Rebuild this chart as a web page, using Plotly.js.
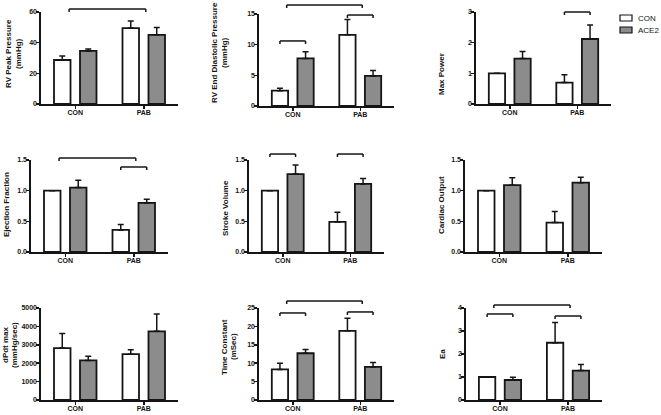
<!DOCTYPE html>
<html><head><meta charset="utf-8">
<script src="https://cdn.plot.ly/plotly-3.0.1.min.js"></script>
<style>html,body{margin:0;padding:0;background:#fff}#chart{width:661px;height:415px}</style>
</head><body><div id="chart"></div>
<script>
// ---- data ----
const groups = ['CON', 'PAB'];
const seriesNames = ['CON', 'ACE2'];
const panelTitles = [['RV Peak Pressure', '(mmHg)'], ['RV End Diastolic Pressure', '(mmHg)'], ['Max Power'],
  ['Ejection Fraction'], ['Stroke Volume'], ['Cardiac Output'],
  ['dPdt max', '(mmHg/sec)'], ['Time Constant', '(mSec)'], ['Ea']];
const yMax = [60, 15, 3, 1.5, 1.5, 1.5, 5000, 25, 4];
const yStep = [20, 5, 1, 0.5, 0.5, 0.5, 1000, 5, 1];
const yFormat = ['', '', '', '.1f', '.1f', '.1f', '', '', ''];
// mean values [CON group, PAB group]
const conMean = [[28.7, 49.5], [2.5, 11.6], [1.0, 0.70], [1.0, 0.36], [1.0, 0.49], [1.0, 0.48], [2820, 2490], [8.3, 18.8], [1.0, 2.49]];
const conUpper = [[31.3, 54.1], [2.9, 14.1], [1.0, 0.95], [1.0, 0.45], [1.0, 0.65], [1.0, 0.66], [3620, 2730], [10.0, 22.2], [1.0, 3.37]];
const aceMean = [[34.6, 45.1], [7.75, 4.9], [1.48, 2.12], [1.05, 0.80], [1.27, 1.11], [1.09, 1.13], [2150, 3730], [12.7, 9.0], [0.87, 1.28]];
const aceUpper = [[35.9, 49.9], [8.85, 5.8], [1.71, 2.58], [1.17, 0.86], [1.42, 1.20], [1.21, 1.22], [2380, 4670], [13.7, 10.2], [0.99, 1.54]];
// significance brackets: [kind, level as fraction of axis height]
const brackets = [
  [['across', 1.033]],
  [['across', 1.098], ['within0', 0.707], ['within1', 0.989]],
  [['within1', 1.0]],
  [['across', 1.022], ['within1', 0.924]],
  [['within0', 1.065], ['within1', 1.065]],
  [],
  [],
  [['across', 1.076], ['within0', 0.946], ['within1', 0.957]],
  [['across', 1.033], ['within0', 0.935], ['within1', 0.913]]
];

// ---- layout geometry (px) ----
const W = 661, H = 415;
const domX = [[41,178],[259,394],[476,611],[31,168],[249,384],[465,602],[41,178],[259,394],[466,602]];
const domY = [[12,104],[14,106],[12,104],[160,252],[160,252],[160,252],[308,400],[308,400],[308,400]];
// x of each title line centre, and vertical centre
const titleX = [[8,18],[215,225],[442],[7],[225],[442],[5,14],[224,233],[442]];
const titleY = [54, 53, 74, 205, 208, 205, 345, 347, 354];
const BARGAP = 0.241, BARGROUPGAP = 0.365;
const half = (1 - BARGAP) / 4; // offset of bar centre from group centre

const ink = '#151515';
const fills = ['#ffffff', '#8c8c8c'];
const fontFam = 'Liberation Sans, Arial, sans-serif';

const traces = [];
const layout = {
  width: W, height: H, margin: {l: 0, r: 0, t: 0, b: 0},
  paper_bgcolor: '#fff', plot_bgcolor: '#fff',
  barmode: 'group', bargap: BARGAP, bargroupgap: BARGROUPGAP,
  showlegend: false, shapes: [], annotations: []
};

for (let i = 0; i < 9; i++) {
  const sfx = i === 0 ? '' : String(i + 1);
  const means = [conMean[i], aceMean[i]];
  const uppers = [conUpper[i], aceUpper[i]];
  for (let s = 0; s < 2; s++) {
    traces.push({
      type: 'bar', x: [0, 1], y: means[s], name: seriesNames[s],
      xaxis: 'x' + sfx, yaxis: 'y' + sfx,
      marker: {color: fills[s], line: {color: ink, width: 1.8}},
      error_y: {type: 'data', symmetric: false,
        array: uppers[s].map((u, k) => Math.max(0, u - means[s][k])),
        arrayminus: [0, 0], color: ink, thickness: 1.5, width: 3},
      hoverinfo: 'skip'
    });
  }
  const d = domX[i], e = domY[i];
  const tf = {family: fontFam, size: 7, color: ink, weight: 'bold'};
  layout['xaxis' + sfx] = {
    domain: [d[0] / W, d[1] / W], anchor: 'y' + sfx, range: [-0.5, 1.5],
    tickvals: [0, 1], ticktext: groups, showline: true, linecolor: ink, linewidth: 1.6,
    ticks: 'outside', ticklen: 3, tickwidth: 1.5, tickcolor: ink, tickfont: tf,
    ticklabelstandoff: -2,
    showgrid: false, zeroline: false, fixedrange: true
  };
  layout['yaxis' + sfx] = {
    domain: [1 - e[1] / H, 1 - e[0] / H], anchor: 'x' + sfx, range: [0, yMax[i]],
    tick0: 0, dtick: yStep[i], tickformat: yFormat[i], showline: true, linecolor: ink, linewidth: 1.6,
    ticks: 'outside', ticklen: 3, tickwidth: 1.5, tickcolor: ink, tickfont: tf,
    ticklabelstandoff: -2,
    showgrid: false, zeroline: false, fixedrange: true
  };
  // axis title, one annotation per line
  panelTitles[i].forEach((line, k) => {
    layout.annotations.push({
      text: line, xref: 'paper', yref: 'paper',
      x: titleX[i][k] / W, y: 1 - titleY[i] / H, xanchor: 'center', yanchor: 'middle',
      textangle: -90, showarrow: false,
      font: {family: fontFam, size: 8, color: ink, weight: 'bold'}
    });
  });
  // brackets
  const tick = 3 / (e[1] - e[0]);
  brackets[i].forEach(([kind, lev]) => {
    let x0, x1;
    if (kind === 'across') { x0 = -0.09; x1 = 1.03; }
    else { const g = kind === 'within0' ? 0 : 1; x0 = g - half; x1 = g + half; }
    const base = {type: 'line', xref: 'x' + sfx, yref: 'y' + sfx + ' domain', line: {color: ink, width: 1.5}};
    layout.shapes.push(Object.assign({}, base, {x0: x0, x1: x1, y0: lev, y1: lev}));
    layout.shapes.push(Object.assign({}, base, {x0: x0, x1: x0, y0: lev, y1: lev - tick}));
    layout.shapes.push(Object.assign({}, base, {x0: x1, x1: x1, y0: lev, y1: lev - tick}));
  });
}

// legend (top right)
const legX = 620, legY = [18, 30];
for (let s = 0; s < 2; s++) {
  layout.shapes.push({type: 'rect', xref: 'paper', yref: 'paper',
    x0: legX / W, x1: (legX + 12) / W, y0: 1 - (legY[s] + 3) / H, y1: 1 - (legY[s] - 3) / H,
    fillcolor: fills[s], line: {color: ink, width: 1.2}});
  layout.annotations.push({text: seriesNames[s], xref: 'paper', yref: 'paper',
    x: (legX + 16) / W, y: 1 - legY[s] / H, xanchor: 'left', yanchor: 'middle', showarrow: false,
    font: {family: fontFam, size: 8, color: ink}});
}

Plotly.newPlot('chart', traces, layout, {staticPlot: true, displayModeBar: false});
</script>
</body></html>
